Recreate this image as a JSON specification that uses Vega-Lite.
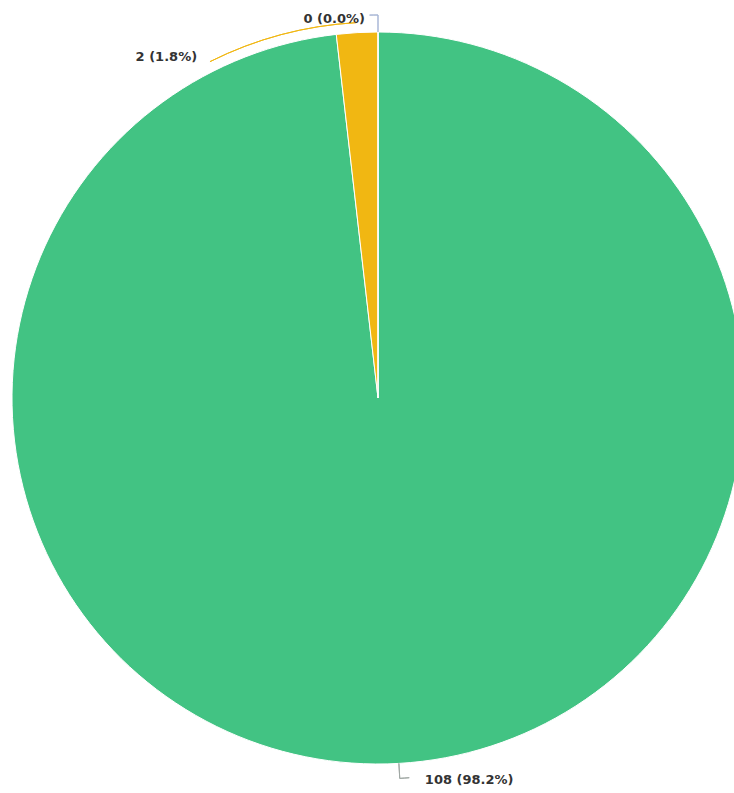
{
  "$schema": "https://vega.github.io/schema/vega-lite/v6.json",
  "width": 712,
  "height": 790,
  "autosize": "none",
  "padding": {"left": 22, "top": 3, "right": 0, "bottom": 0},
  "background": "white",
  "config": {"view": {"stroke": null}},
  "data": {
    "values": [
      {"category": "A", "value": 108, "label": "108 (98.2%)", "rank": 1},
      {"category": "B", "value": 2, "label": "2 (1.8%)", "rank": 2},
      {"category": "C", "value": 0, "label": "0 (0.0%)", "rank": 3}
    ]
  },
  "encoding": {
    "theta": {"field": "value", "type": "quantitative", "stack": true},
    "order": {"field": "rank", "type": "quantitative"},
    "color": {
      "field": "category",
      "type": "nominal",
      "scale": {"domain": ["A", "B", "C"], "range": ["#42c383", "#f1b712", "#a9b7d6"]},
      "legend": null
    }
  },
  "layer": [
    {
      "mark": {"type": "arc", "outerRadius": 366, "stroke": "white", "strokeWidth": 1}
    },
    {
      "transform": [
        {"stack": "value", "groupby": [], "sort": [{"field": "rank", "order": "ascending"}], "as": ["v0", "v1"]},
        {"filter": "datum.category === 'A'"}
      ],
      "mark": {"type": "arc", "innerRadius": 366, "outerRadius": 381, "thetaOffset": 3.0845, "theta2Offset": -3.0845, "fillOpacity": 0, "stroke": "#a0a8a4", "strokeWidth": 1},
      "encoding": {
        "theta": {"field": "v0", "type": "quantitative", "stack": null},
        "theta2": {"field": "v1"}
      }
    },
    {
      "transform": [
        {"stack": "value", "groupby": [], "sort": [{"field": "rank", "order": "ascending"}], "as": ["v0", "v1"]},
        {"filter": "datum.category === 'A'"}
      ],
      "mark": {"type": "arc", "innerRadius": 381, "outerRadius": 381, "thetaOffset": 3.0595, "theta2Offset": -3.0845, "fillOpacity": 0, "stroke": "#a0a8a4", "strokeWidth": 1},
      "encoding": {
        "theta": {"field": "v0", "type": "quantitative", "stack": null},
        "theta2": {"field": "v1"}
      }
    },
    {
      "transform": [
        {"stack": "value", "groupby": [], "sort": [{"field": "rank", "order": "ascending"}], "as": ["v0", "v1"]},
        {"filter": "datum.category === 'B'"}
      ],
      "mark": {"type": "arc", "innerRadius": 376, "outerRadius": 376, "thetaOffset": -0.349, "theta2Offset": -0.0576, "fillOpacity": 0, "stroke": "#f1b712", "strokeWidth": 1},
      "encoding": {
        "theta": {"field": "v0", "type": "quantitative", "stack": null},
        "theta2": {"field": "v1"}
      }
    },
    {
      "transform": [
        {"stack": "value", "groupby": [], "sort": [{"field": "rank", "order": "ascending"}], "as": ["v0", "v1"]},
        {"filter": "datum.category === 'C'"}
      ],
      "mark": {"type": "arc", "innerRadius": 366, "outerRadius": 383, "fillOpacity": 0, "stroke": "#a9b7d6", "strokeWidth": 1},
      "encoding": {
        "theta": {"field": "v0", "type": "quantitative", "stack": null},
        "theta2": {"field": "v1"}
      }
    },
    {
      "transform": [
        {"stack": "value", "groupby": [], "sort": [{"field": "rank", "order": "ascending"}], "as": ["v0", "v1"]},
        {"filter": "datum.category === 'C'"}
      ],
      "mark": {"type": "arc", "innerRadius": 383, "outerRadius": 383, "thetaOffset": -0.022, "fillOpacity": 0, "stroke": "#a9b7d6", "strokeWidth": 1},
      "encoding": {
        "theta": {"field": "v0", "type": "quantitative", "stack": null},
        "theta2": {"field": "v1"}
      }
    },
    {
      "mark": {"type": "text", "radius": 383, "align": "left", "baseline": "middle", "dx": 25, "font": "DejaVu Sans", "fontWeight": "bold", "fontSize": 13},
      "encoding": {
        "text": {"condition": {"test": "datum.category === 'A'", "field": "label"}, "value": ""},
        "color": {"value": "#333333"}
      }
    },
    {
      "mark": {"type": "text", "radius": 366, "align": "right", "baseline": "middle", "dx": -160, "dy": 24, "font": "DejaVu Sans", "fontWeight": "bold", "fontSize": 13},
      "encoding": {
        "text": {"condition": {"test": "datum.category === 'B'", "field": "label"}, "value": ""},
        "color": {"value": "#333333"}
      }
    },
    {
      "mark": {"type": "text", "radius": 379, "align": "right", "baseline": "middle", "dx": -13, "font": "DejaVu Sans", "fontWeight": "bold", "fontSize": 13},
      "encoding": {
        "text": {"condition": {"test": "datum.category === 'C'", "field": "label"}, "value": ""},
        "color": {"value": "#333333"}
      }
    }
  ]
}
